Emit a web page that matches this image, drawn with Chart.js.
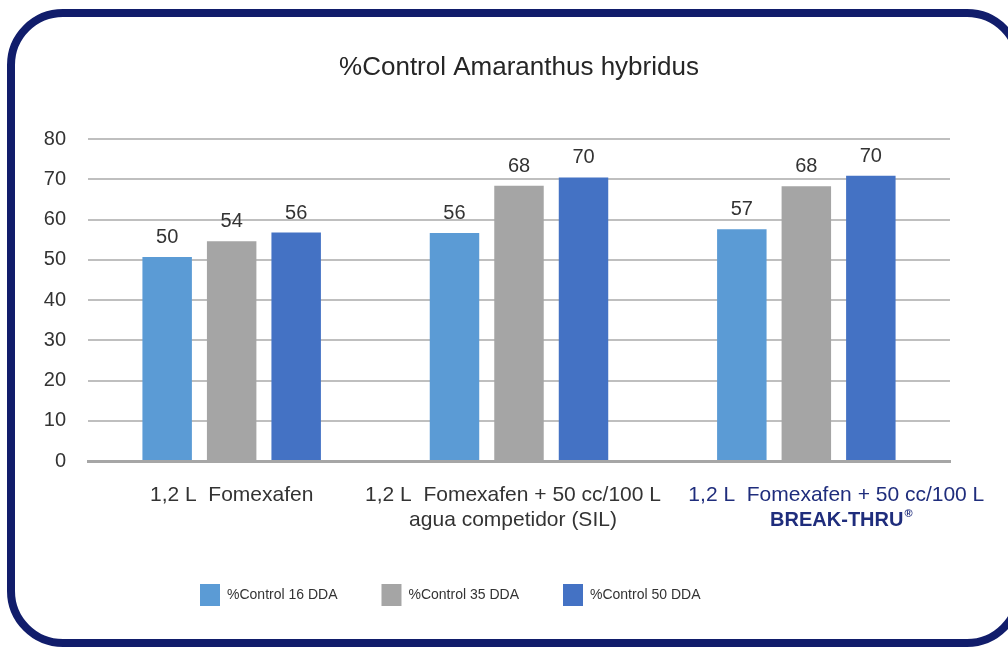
<!DOCTYPE html>
<html>
<head>
<meta charset="utf-8">
<script src="https://cdn.jsdelivr.net/npm/chart.js@4.4.0/dist/chart.umd.min.js"></script>
<style>
  html, body { margin: 0; padding: 0; background: #fff; overflow: hidden; }
  #frame {
    position: absolute; left: 7px; top: 9px;
    width: 1000px; height: 622px;
    border: 8px solid #111d6b; border-radius: 56px;
  }
  #wrap { position: absolute; left: 0; top: 0; width: 1008px; height: 648px; }
</style>
</head>
<body>
<div id="frame"></div>
<div id="wrap"><canvas id="chart"></canvas></div>
<script>
// datos
const categories = ['1,2 L  Fomexafen', '1,2 L  Fomexafen + 50 cc/100 L', '1,2 L  Fomexafen + 50 cc/100 L'];
const categoryLine2 = ['', 'agua competidor (SIL)', 'BREAK-THRU'];
const seriesNames = ['%Control 16 DDA', '%Control 35 DDA', '%Control 50 DDA'];
const control16 = [50.7, 56.7, 57.6];
const control35 = [54.6, 68.4, 68.3];
const control50 = [56.8, 70.5, 70.9];
const yMin = 0, yMax = 80, yStep = 10;

// estilo
const COLOR_LIGHT = '#5b9bd5';
const COLOR_GRAY = '#a5a5a5';
const COLOR_BLUE = '#4472c4';
const NAVY = '#1f2d7c';
const TEXT = '#333333';
const FONT = "'Liberation Sans', Arial, sans-serif";
const LABEL_NUDGE = [0, -6, 30];   // las etiquetas del original no estan centradas

// etiquetas de valor encima de cada barra
const valueLabels = {
  id: 'valueLabels',
  afterDatasetsDraw(chart) {
    const ctx = chart.ctx;
    ctx.save();
    ctx.font = '20px ' + FONT;
    ctx.fillStyle = TEXT;
    ctx.textAlign = 'center';
    ctx.textBaseline = 'alphabetic';
    chart.data.datasets.forEach((ds, di) => {
      chart.getDatasetMeta(di).data.forEach((bar, i) => {
        ctx.fillText(String(Math.floor(ds.data[i])), bar.x, bar.y - 14);
      });
    });
    ctx.restore();
  }
};

// etiquetas de categoria (la tercera lleva BREAK-THRU en negrita)
const categoryLabels = {
  id: 'categoryLabels',
  afterDraw(chart) {
    const ctx = chart.ctx;
    const x = chart.scales.x;
    const base = chart.chartArea.bottom;
    ctx.save();
    ctx.textBaseline = 'alphabetic';
    categories.forEach((cat, i) => {
      const cx = x.getPixelForValue(i) + LABEL_NUDGE[i];
      ctx.fillStyle = i === 2 ? NAVY : TEXT;
      ctx.textAlign = 'center';
      ctx.font = '21px ' + FONT;
      ctx.fillText(cat, cx, base + 39.5);
      if (!categoryLine2[i]) return;
      if (i === 2) {
        ctx.font = 'bold 20px ' + FONT;
        const w1 = ctx.measureText(categoryLine2[i]).width;
        ctx.font = 'bold 11px ' + FONT;
        const w2 = ctx.measureText('®').width;
        const start = cx - (w1 + w2 + 1) / 2 + 5;
        ctx.textAlign = 'left';
        ctx.font = 'bold 20px ' + FONT;
        ctx.fillText(categoryLine2[i], start, base + 64.5);
        ctx.font = 'bold 11px ' + FONT;
        ctx.fillText('®', start + w1 + 1, base + 56);
      } else {
        ctx.fillText(categoryLine2[i], cx, base + 64.5);
      }
    });
    ctx.restore();
  }
};

// leyenda: altura fija y posicion como en el original
const legendPlace = {
  id: 'legendPlace',
  beforeLayout(chart) {
    const lg = chart.legend;
    if (lg && !lg._patched) {
      const fit = lg.fit;
      lg.fit = function () { fit.call(this); this.height = 60; };
      lg._patched = true;
    }
  },
  afterLayout(chart) {
    const lg = chart.legend;
    const pad = lg.options.labels.padding;
    const w = lg.right - lg.left;
    lg.left = 200 - pad;
    lg.right = lg.left + w;
    lg.top = 584 - pad;
    lg.bottom = 648;
  }
};

new Chart(document.getElementById('chart'), {
  type: 'bar',
  data: {
    labels: categories.map((c, i) => [c, categoryLine2[i]]),
    datasets: [
      { label: seriesNames[0], data: control16, backgroundColor: COLOR_LIGHT },
      { label: seriesNames[1], data: control35, backgroundColor: COLOR_GRAY },
      { label: seriesNames[2], data: control50, backgroundColor: COLOR_BLUE }
    ]
  },
  options: {
    responsive: true,
    maintainAspectRatio: false,
    animation: false,
    barPercentage: 0.767,
    categoryPercentage: 0.6735,
    layout: { padding: { left: 0, right: 58, top: 0, bottom: 0 } },
    scales: {
      x: {
        grid: { display: false, drawTicks: false },
        border: { display: true, color: '#a6a6a6', width: 3 },
        ticks: { display: false },
        afterFit: s => { s.height = 127; }
      },
      y: {
        min: yMin, max: yMax,
        grid: {
          drawTicks: false,
          lineWidth: 2,
          color: c => (c.tick && c.tick.value === 0) ? 'rgba(0,0,0,0)' : '#bfbfbf'
        },
        border: { display: false },
        ticks: { stepSize: yStep, padding: 22, color: TEXT, font: { family: FONT, size: 20 } },
        afterFit: s => { s.width = 88; }
      }
    },
    plugins: {
      title: {
        display: true,
        text: '%Control Amaranthus hybridus',
        color: '#262626',
        fullSize: false,
        font: { family: FONT, size: 26, weight: 'normal' },
        padding: { top: 52, bottom: 56 }
      },
      legend: {
        position: 'bottom',
        align: 'start',
        labels: {
          boxWidth: 20, boxHeight: 22, padding: 44,
          color: TEXT,
          font: { family: "'Liberation Sans Narrow', " + FONT, size: 14 }
        }
      },
      tooltip: { enabled: false }
    }
  },
  plugins: [valueLabels, categoryLabels, legendPlace]
});
</script>
</body>
</html>
